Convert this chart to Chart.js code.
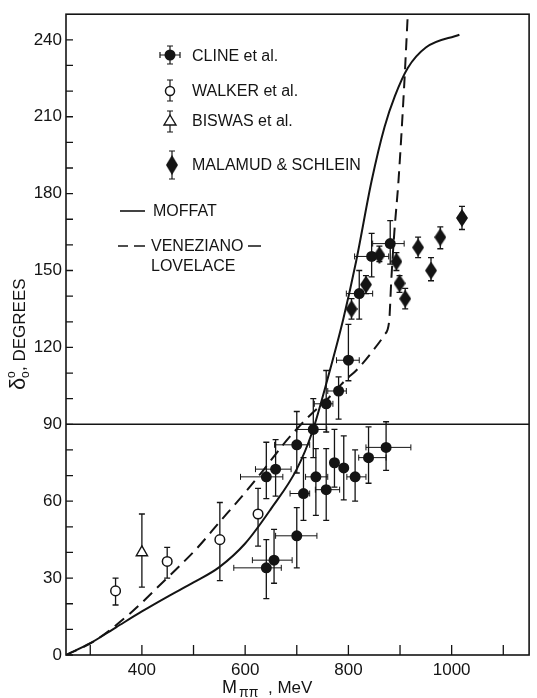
<!DOCTYPE html>
<html>
<head>
<meta charset="utf-8">
<script src="https://cdn.jsdelivr.net/npm/chart.js@4.4.1/dist/chart.umd.min.js"></script>
<style>
  html, body { margin: 0; padding: 0; background: #fff; }
  canvas { display: block; }
</style>
</head>
<body>
<canvas id="phase-chart" width="537" height="698"></canvas>
<script>
// ----------------------------------------------------------------------
// data
// ----------------------------------------------------------------------
const xTickValues = [300, 400, 500, 600, 700, 800, 900, 1000, 1100];
const xTickLabels = [400, 600, 800, 1000];
const yTickValues = [0, 10, 20, 30, 40, 50, 60, 70, 80, 90, 100, 110, 120, 130, 140, 150, 160, 170, 180, 190, 200, 210, 220, 230, 240];
const yTickLabels = [0, 30, 60, 90, 120, 150, 180, 210, 240];

// CLINE et al. (filled circles, errors in mass and phase)
const clineMass    = [641, 656, 700, 641, 659, 700, 713, 737, 757, 773, 791, 813, 839, 873, 732, 757, 781, 800, 821, 845, 881];
const clinePhase   = [34, 37, 46.5, 69.5, 72.5, 82, 63, 69.5, 64.5, 75, 73, 69.5, 77, 81, 88, 98, 103, 115, 141, 155.5, 160.5];
const clineMassLo  = [578, 614, 659, 591, 620, 657, 687, 717, 736, 773, 791, 797, 820, 834, 700, 734, 760, 777, 796, 812, 847];
const clineMassHi  = [670, 691, 739, 673, 689, 725, 725, 760, 783, 773, 791, 834, 873, 921, 758, 770, 796, 821, 847, 878, 908];
const clinePhaseLo = [22, 28, 34, 61, 62, 71, 52.5, 54.5, 52.5, 65.5, 60.5, 60, 67, 72, 77, 87, 92, 107, 131, 147.5, 152.5];
const clinePhaseHi = [45, 49, 57.5, 83, 84, 95, 77, 80.5, 80.5, 88, 85.5, 80, 89, 91, 100, 111, 108.5, 129, 150, 164.5, 169.5];

// WALKER et al. (open circles)
const walkerMass    = [349, 449, 551, 625];
const walkerPhase   = [25, 36.5, 45, 55];
const walkerPhaseLo = [19.5, 30, 29, 42.5];
const walkerPhaseHi = [30, 42, 59.5, 65];

// BISWAS et al. (open triangle)
const biswasMass    = [400];
const biswasPhase   = [40];
const biswasPhaseLo = [26.5];
const biswasPhaseHi = [55];

// MALAMUD & SCHLEIN (diamonds)
const malamudMass    = [806, 834, 860, 893, 899, 910, 935, 960, 978, 1020];
const malamudPhase   = [135, 144.5, 156, 153.5, 145, 139, 159, 150, 163, 170.5];
const malamudPhaseLo = [131, 141, 153.5, 150, 141.5, 135, 155, 146, 158.5, 166];
const malamudPhaseHi = [139, 148, 159.5, 157, 148, 143, 163, 155, 167, 175];

// MOFFAT (solid curve)
const moffatMass  = [253, 300, 350, 400, 450, 500, 550, 600, 650, 700, 730, 760, 790, 815, 845, 870, 890, 915, 950, 1015];
const moffatPhase = [0, 4.6, 10.8, 17, 22.8, 28.3, 34.3, 43.5, 57, 72.5, 87, 108, 131, 153.6, 185, 206, 218, 229, 237, 242];

// VENEZIANO - LOVELACE (dashed curve)
const venezMass  = [253, 306, 377, 441, 506, 551, 590, 625, 680, 718, 760, 796, 815, 847, 870, 879, 883, 889, 897, 908, 915];
const venezPhase = [0, 5.2, 16.2, 28.5, 41.5, 52, 61, 69.5, 83.6, 92, 100, 107.6, 111, 118.6, 125, 130.3, 146, 165, 185, 222, 250];

const INK = '#141414';
const FONT = '"Liberation Sans", Arial, sans-serif';

// ----------------------------------------------------------------------
// helpers
// ----------------------------------------------------------------------
const toPoints = (xs, ys) => xs.map((x, i) => ({ x: x, y: ys[i] }));

// tall diamond used as point style for MALAMUD & SCHLEIN
function makeDiamond(w, h) {
    const c = document.createElement('canvas');
    c.width = w; c.height = h;
    const g = c.getContext('2d');
    g.beginPath();
    g.moveTo(w / 2, 0); g.lineTo(w, h / 2); g.lineTo(w / 2, h); g.lineTo(0, h / 2);
    g.closePath();
    g.fillStyle = INK;
    g.fill();
    return c;
}
const diamondImg = makeDiamond(12, 18);

// vertical / horizontal error bar with caps
function vBar(ctx, x, y1, y2, cap) {
    ctx.beginPath();
    ctx.moveTo(x, y1); ctx.lineTo(x, y2);
    ctx.moveTo(x - cap, y1); ctx.lineTo(x + cap, y1);
    ctx.moveTo(x - cap, y2); ctx.lineTo(x + cap, y2);
    ctx.stroke();
}
function hBar(ctx, y, x1, x2, cap) {
    ctx.beginPath();
    ctx.moveTo(x1, y); ctx.lineTo(x2, y);
    ctx.moveTo(x1, y - cap); ctx.lineTo(x1, y + cap);
    ctx.moveTo(x2, y - cap); ctx.lineTo(x2, y + cap);
    ctx.stroke();
}

// ----------------------------------------------------------------------
// plugins: frame + inward ticks, error bars, legend and axis titles
// ----------------------------------------------------------------------
const framePlugin = {
    id: 'frame',
    beforeDatasetsDraw(chart) {
        const { ctx, chartArea: a, scales } = chart;
        ctx.save();
        ctx.strokeStyle = INK;
        ctx.lineWidth = 1.6;
        ctx.strokeRect(a.left, a.top, a.right - a.left, a.bottom - a.top);

        // 90 degree line
        const y90 = scales.y.getPixelForValue(90);
        ctx.beginPath();
        ctx.moveTo(a.left, y90); ctx.lineTo(a.right, y90);
        ctx.stroke();

        // ticks point into the plot
        ctx.lineWidth = 1.3;
        ctx.beginPath();
        xTickValues.forEach(v => {
            const px = scales.x.getPixelForValue(v);
            ctx.moveTo(px, a.bottom); ctx.lineTo(px, a.bottom - 10);
        });
        yTickValues.forEach(v => {
            const py = scales.y.getPixelForValue(v);
            ctx.moveTo(a.left, py); ctx.lineTo(a.left + 7, py);
        });
        ctx.stroke();
        ctx.restore();
    }
};

const errorBarPlugin = {
    id: 'errorBars',
    beforeDatasetsDraw(chart) {
        const { ctx, scales } = chart;
        const sx = scales.x, sy = scales.y;
        ctx.save();
        ctx.strokeStyle = INK;

        // horizontal (mass) errors, thin
        ctx.lineWidth = 1;
        clineMass.forEach((m, i) => {
            if (clineMassLo[i] === clineMassHi[i]) return;
            hBar(ctx, sy.getPixelForValue(clinePhase[i]),
                 sx.getPixelForValue(clineMassLo[i]), sx.getPixelForValue(clineMassHi[i]), 3);
        });

        // vertical (phase) errors
        ctx.lineWidth = 1.3;
        const vSets = [
            [clineMass, clinePhaseLo, clinePhaseHi],
            [walkerMass, walkerPhaseLo, walkerPhaseHi],
            [biswasMass, biswasPhaseLo, biswasPhaseHi],
            [malamudMass, malamudPhaseLo, malamudPhaseHi]
        ];
        vSets.forEach(([xs, lo, hi]) => {
            xs.forEach((m, i) => {
                vBar(ctx, sx.getPixelForValue(m), sy.getPixelForValue(hi[i]), sy.getPixelForValue(lo[i]), 3);
            });
        });
        ctx.restore();
    }
};

const legendPlugin = {
    id: 'figLegend',
    afterDraw(chart) {
        const ctx = chart.ctx;
        ctx.save();
        ctx.fillStyle = INK;
        ctx.strokeStyle = INK;
        ctx.font = '16px ' + FONT;
        ctx.textBaseline = 'middle';
        ctx.textAlign = 'left';

        // CLINE
        ctx.lineWidth = 1.2;
        vBar(ctx, 170, 46, 64, 3);
        hBar(ctx, 55, 160, 180, 3);
        ctx.beginPath(); ctx.arc(170, 55, 5.5, 0, Math.PI * 2); ctx.fill();
        ctx.fillText('CLINE et al.', 192, 57);

        // WALKER
        vBar(ctx, 170, 80, 101, 3);
        ctx.fillStyle = '#fff';
        ctx.beginPath(); ctx.arc(170, 91, 4.5, 0, Math.PI * 2); ctx.fill();
        ctx.lineWidth = 1.5; ctx.stroke();
        ctx.fillStyle = INK;
        ctx.fillText('WALKER et al.', 192, 92);

        // BISWAS
        ctx.lineWidth = 1.2;
        vBar(ctx, 170, 111, 132, 3);
        ctx.fillStyle = '#fff';
        ctx.beginPath();
        ctx.moveTo(170, 115); ctx.lineTo(176, 125); ctx.lineTo(164, 125); ctx.closePath();
        ctx.fill(); ctx.lineWidth = 1.4; ctx.stroke();
        ctx.fillStyle = INK;
        ctx.fillText('BISWAS et al.', 192, 122);

        // MALAMUD & SCHLEIN
        ctx.lineWidth = 1.2;
        vBar(ctx, 172, 151, 179, 3);
        ctx.drawImage(diamondImg, 172 - 6, 165 - 10, 12, 20);
        ctx.fillText('MALAMUD & SCHLEIN', 192, 166);

        // MOFFAT
        ctx.lineWidth = 1.6;
        ctx.beginPath(); ctx.moveTo(120, 211); ctx.lineTo(145, 211); ctx.stroke();
        ctx.fillText('MOFFAT', 153, 212);

        // VENEZIANO - LOVELACE
        ctx.beginPath();
        ctx.moveTo(118, 246); ctx.lineTo(128, 246);
        ctx.moveTo(134, 246); ctx.lineTo(145, 246);
        ctx.moveTo(248, 246); ctx.lineTo(261, 246);
        ctx.stroke();
        ctx.fillText('VENEZIANO', 151, 247);
        ctx.fillText('LOVELACE', 151, 267);

        // x axis title: M_pipi , MeV
        ctx.textBaseline = 'alphabetic';
        ctx.font = '18px ' + FONT;
        ctx.fillText('M', 222, 693);
        ctx.font = '14px ' + FONT;
        ctx.fillText('\u03C0\u03C0', 239, 697);
        ctx.font = '17px ' + FONT;
        ctx.fillText(', MeV', 268, 693);

        // y axis title (rotated): delta^o_o , DEGREES
        ctx.translate(25, 390);
        ctx.rotate(-Math.PI / 2);
        ctx.font = '22px ' + FONT;
        ctx.fillText('\u03B4', 0, 0);
        ctx.font = '12px ' + FONT;
        ctx.fillText('o', 12, -10);
        ctx.fillText('o', 12, 4);
        ctx.font = '17px ' + FONT;
        ctx.fillText(', DEGREES', 19, 0);
        ctx.restore();
    }
};

// ----------------------------------------------------------------------
// chart
// ----------------------------------------------------------------------
const ctx = document.getElementById('phase-chart').getContext('2d');
new Chart(ctx, {
    type: 'scatter',
    data: {
        datasets: [
            {
                label: 'CLINE et al.',
                data: toPoints(clineMass, clinePhase),
                pointStyle: 'circle',
                pointRadius: 5.5,
                backgroundColor: INK,
                borderColor: INK,
                borderWidth: 0
            },
            {
                label: 'WALKER et al.',
                data: toPoints(walkerMass, walkerPhase),
                pointStyle: 'circle',
                pointRadius: 4.8,
                backgroundColor: '#fff',
                borderColor: INK,
                borderWidth: 1.5
            },
            {
                label: 'BISWAS et al.',
                data: toPoints(biswasMass, biswasPhase),
                pointStyle: 'triangle',
                pointRadius: 6.5,
                backgroundColor: '#fff',
                borderColor: INK,
                borderWidth: 1.4
            },
            {
                label: 'MALAMUD & SCHLEIN',
                data: toPoints(malamudMass, malamudPhase),
                pointStyle: diamondImg,
                pointRadius: 6
            },
            {
                type: 'line',
                label: 'MOFFAT',
                data: toPoints(moffatMass, moffatPhase),
                borderColor: INK,
                borderWidth: 2,
                pointRadius: 0,
                fill: false,
                cubicInterpolationMode: 'monotone'
            },
            {
                type: 'line',
                label: 'VENEZIANO - LOVELACE',
                data: toPoints(venezMass, venezPhase),
                borderColor: INK,
                borderWidth: 2,
                borderDash: [12, 7],
                pointRadius: 0,
                fill: false,
                cubicInterpolationMode: 'monotone'
            }
        ]
    },
    options: {
        responsive: false,
        animation: false,
        devicePixelRatio: 1,
        layout: { padding: { top: 13, right: 7, left: 0, bottom: 0 } },
        plugins: {
            legend: { display: false },
            tooltip: { enabled: false }
        },
        scales: {
            x: {
                type: 'linear',
                min: 253,
                max: 1150,
                grid: { display: false, drawTicks: false },
                border: { display: false },
                afterFit: s => { s.height = 43; },
                afterBuildTicks: s => { s.ticks = xTickValues.map(v => ({ value: v })); },
                ticks: {
                    autoSkip: false,
                    maxRotation: 0,
                    padding: 5,
                    color: INK,
                    font: { family: FONT, size: 17 },
                    callback: v => (xTickLabels.includes(v) ? String(v) : '')
                }
            },
            y: {
                type: 'linear',
                min: 0,
                max: 250,
                grid: { display: false, drawTicks: false },
                border: { display: false },
                afterFit: s => { s.width = 66; },
                afterBuildTicks: s => { s.ticks = yTickValues.map(v => ({ value: v })); },
                ticks: {
                    autoSkip: false,
                    padding: 4,
                    color: INK,
                    font: { family: FONT, size: 17 },
                    callback: v => (yTickLabels.includes(v) ? String(v) : '')
                }
            }
        }
    },
    plugins: [framePlugin, errorBarPlugin, legendPlugin]
});
</script>
</body>
</html>
